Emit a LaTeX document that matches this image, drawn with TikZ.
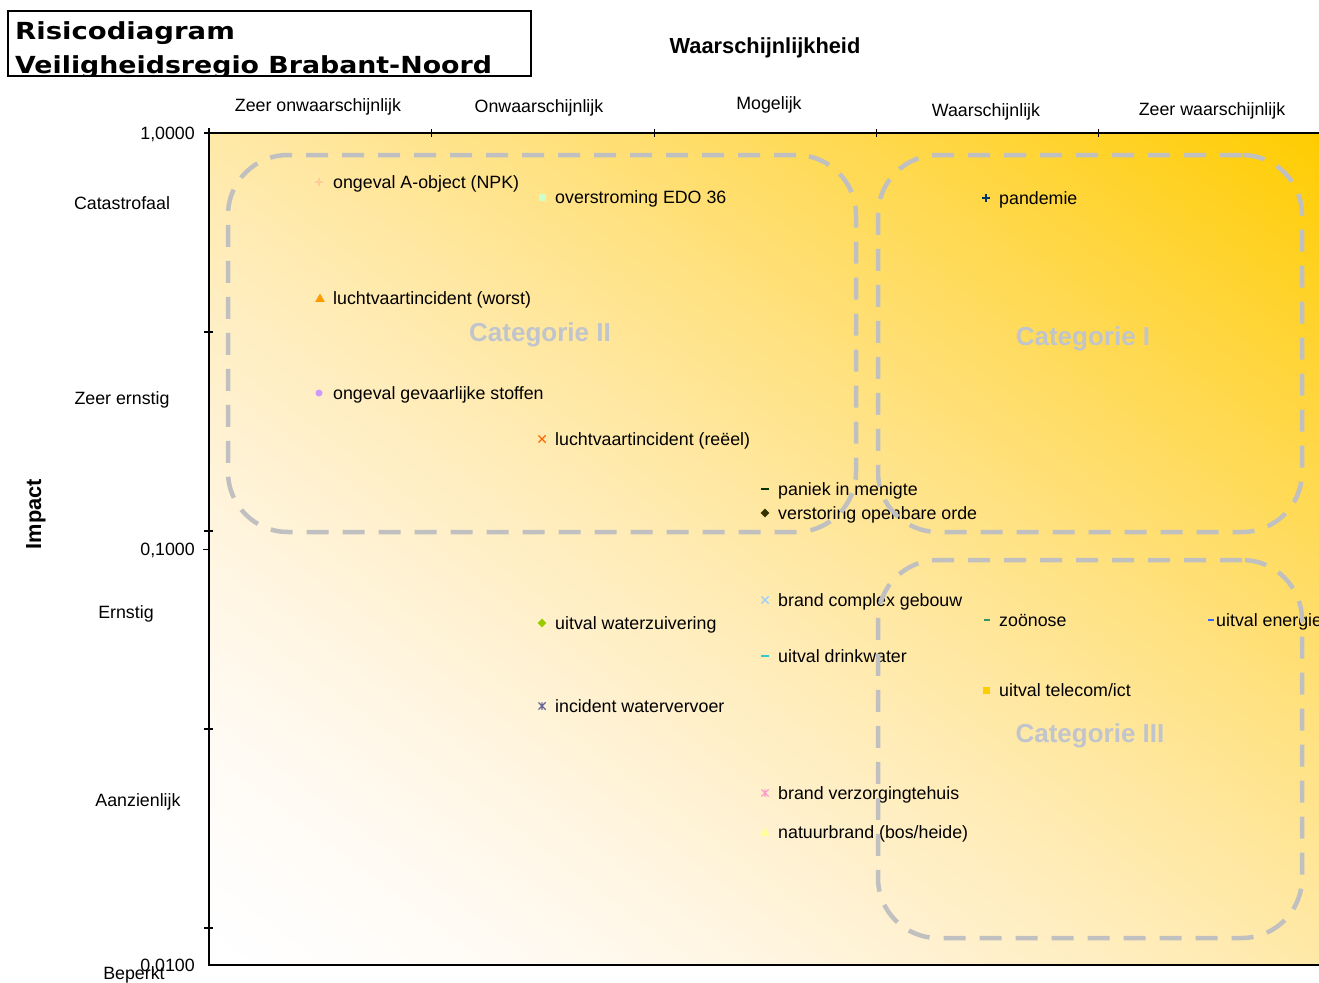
\documentclass[tikz,border=0pt]{standalone}
\usepackage{fontspec}
\usepackage{graphicx}
\setmainfont{Liberation Sans}
\newfontfamily\titlefont{DejaVu Sans}
\usetikzlibrary{shapes.geometric,shadings}
\pgfdeclarefunctionalshading{plotbg}{\pgfpoint{-50bp}{-50bp}}{\pgfpoint{50bp}{50bp}}{}{
  add 50 add 100 div
  dup 0 lt {pop 0} if
  dup 1 gt {pop 1} if
  dup 1.2 exp 0.2 mul 1 exch sub
  exch 1.55 exp 1 exch sub
  1 3 1 roll
}
\definecolor{boxgray}{RGB}{192,192,192}
\definecolor{catgray}{RGB}{192,196,204}
\definecolor{cA}{RGB}{255,204,153}
\definecolor{cB}{RGB}{204,255,204}
\definecolor{cC}{RGB}{0,51,102}
\definecolor{cD}{RGB}{255,153,0}
\definecolor{cE}{RGB}{204,153,255}
\definecolor{cF}{RGB}{255,102,0}
\definecolor{cG}{RGB}{0,51,0}
\definecolor{cH}{RGB}{51,51,0}
\definecolor{cI}{RGB}{153,204,255}
\definecolor{cJ}{RGB}{51,153,102}
\definecolor{cK}{RGB}{51,102,255}
\definecolor{cL}{RGB}{153,204,0}
\definecolor{cM}{RGB}{51,204,204}
\definecolor{cN}{RGB}{255,204,0}
\definecolor{cO}{RGB}{102,102,153}
\definecolor{cP}{RGB}{255,153,204}
\definecolor{cQ}{RGB}{255,255,153}
\tikzset{
  lbl/.style={font=\fontsize{17.8}{20}\selectfont, inner sep=0, anchor=base west},
  axl/.style={font=\fontsize{17.8}{20}\selectfont, inner sep=0, anchor=base},
  ytl/.style={font=\fontsize{17.8}{20}\selectfont, inner sep=0, anchor=base east},
  ttl/.style={font=\titlefont\bfseries\fontsize{23.5}{28}\selectfont, inner sep=0, anchor=base west},
  catbox/.style={draw=boxgray, line width=4.5, dash pattern=on 22 off 14, rounded corners=60, inner sep=0},
  catlbl/.style={font=\fontsize{26}{30}\selectfont\bfseries, text=catgray, inner sep=0},
  mk/.style={inner sep=0, minimum size=8},
  sqmk/.style={mk, rectangle, fill=#1, minimum size=7},
  trimk/.style={inner sep=0, regular polygon, regular polygon sides=3, minimum size=11, fill=#1},
  cimk/.style={mk, circle, fill=#1, minimum size=7},
  dimk/.style={inner sep=0, diamond, fill=#1, minimum size=9},
  dashmk/.style={inner sep=0, rectangle, fill=#1, minimum width=8, minimum height=2.6},
  plusmk/.style={mk, path picture={\draw[#1, line width=1.3] (path picture bounding box.north) -- (path picture bounding box.south) (path picture bounding box.west) -- (path picture bounding box.east);}},
  crossmk/.style={mk, minimum size=7.5, path picture={\draw[#1, line width=1.2] (path picture bounding box.north west) -- (path picture bounding box.south east) (path picture bounding box.south west) -- (path picture bounding box.north east);}},
  astmk/.style={mk, minimum size=7.5, path picture={\draw[#1, line width=1.2] (path picture bounding box.north west) -- (path picture bounding box.south east) (path picture bounding box.south west) -- (path picture bounding box.north east) (path picture bounding box.north) -- (path picture bounding box.south);}},
}
\begin{document}
\begin{tikzpicture}[x=1pt,y=-1pt]
\useasboundingbox (0,0) rectangle (1319,982);
\fill[white] (0,0) rectangle (1319,982);
% plot background
\shade[shading=plotbg] (209,133) rectangle (1319,965);
% axes
\draw[line width=1.5] (204,133) -- (1319,133);
\draw[line width=1.5] (209,128) -- (209,965) -- (1319,965);
\foreach \x in {431,654,876,1098} \draw[line width=1] (\x,129) -- (\x,137);
\foreach \y in {332,531,729,928} \draw[line width=1.5] (204,\y) -- (213,\y);
\foreach \y in {549} \draw[line width=1] (203,\y) -- (209,\y);
% title
\begin{scope}
\clip (8,11) rectangle (531,75.5);
\node[ttl] (t1) at (15,39.5) {\scalebox{1.17}[1]{Risicodiagram}};
\node[ttl] (t2) at (15,73.5) {\scalebox{1.14}[1]{Veiligheidsregio Brabant-Noord}};
\end{scope}
\draw[line width=1.2] (8,11) rectangle (531,76);
% axis titles
\node[font=\fontsize{21.8}{24}\selectfont\bfseries, inner sep=0, anchor=base] (wt) at (765,53) {Waarschijnlijkheid};
\node[font=\fontsize{21.8}{24}\selectfont\bfseries, inner sep=0, anchor=base, rotate=90] (it) at (41,514) {Impact};
% top labels
\node[axl] (x1) at (318,111) {Zeer onwaarschijnlijk};
\node[axl] (x2) at (539,112) {Onwaarschijnlijk};
\node[axl] (x3) at (769,109) {Mogelijk};
\node[axl] (x4) at (986,116) {Waarschijnlijk};
\node[axl] (x5) at (1212,115) {Zeer waarschijnlijk};
% left labels
\node[axl] (y1) at (122,209) {Catastrofaal};
\node[axl] (y2) at (122,404) {Zeer ernstig};
\node[axl] (y3) at (126,618) {Ernstig};
\node[axl] (y4) at (138,806) {Aanzienlijk};
\node[axl] (y5) at (134,979) {Beperkt};
\node[ytl] (v1) at (195,139) {1,0000};
\node[ytl] (v2) at (195,555) {0,1000};
\node[ytl] (v3) at (195,971) {0,0100};
% data
\node[plusmk=cA] (m1) at (319,182) {};
\node[lbl] (l1) at (333,188) {ongeval A-object (NPK)};
\node[sqmk=cB] (m2) at (542,197) {};
\node[lbl] (l2) at (555,203) {overstroming EDO 36};
\node[plusmk=cC] (m3) at (986,198) {};
\node[lbl] (l3) at (999,204) {pandemie};
\node[trimk=cD] (m4) at (320,299) {};
\node[lbl] (l4) at (333,304) {luchtvaartincident (worst)};
\node[cimk=cE] (m5) at (319,393) {};
\node[lbl] (l5) at (333,399) {ongeval gevaarlijke stoffen};
\node[crossmk=cF] (m6) at (542,439) {};
\node[lbl] (l6) at (555,445) {luchtvaartincident (reëel)};
\node[dashmk=cG] (m7) at (765,489) {};
\node[lbl] (l7) at (778,495) {paniek in menigte};
\node[dimk=cH] (m8) at (765,513) {};
\node[lbl] (l8) at (778,519) {verstoring openbare orde};
\node[crossmk=cI] (m9) at (765,600) {};
\node[lbl] (l9) at (778,606) {brand complex gebouw};
\node[dashmk=cJ, minimum width=6] (m10) at (987,620) {};
\node[lbl] (l10) at (999,626) {zoönose};
\node[dashmk=cK, minimum width=6] (m11) at (1211,620) {};
\node[lbl] (l11) at (1216,626) {uitval energie};
\node[dimk=cL] (m12) at (542,623) {};
\node[lbl] (l12) at (555,629) {uitval waterzuivering};
\node[dashmk=cM] (m13) at (765,656) {};
\node[lbl] (l13) at (778,662) {uitval drinkwater};
\node[sqmk=cN] (m14) at (986,690) {};
\node[lbl] (l14) at (999,696) {uitval telecom/ict};
\node[astmk=cO] (m15) at (542,706) {};
\node[lbl] (l15) at (555,712) {incident watervervoer};
\node[astmk=cP] (m16) at (765,793) {};
\node[lbl] (l16) at (778,799) {brand verzorgingtehuis};
\node[trimk=cQ] (m17) at (765,833) {};
\node[lbl] (l17) at (778,838) {natuurbrand (bos/heide)};
% category boxes
\node[catbox, minimum width=628, minimum height=377] (c2) at (542,343.5) {};
\node[catbox, minimum width=424, minimum height=377] (c1) at (1090,343.5) {};
\node[catbox, minimum width=424, minimum height=378] (c3) at (1090,749) {};
\node[catlbl] (k2) at (540,335) {Categorie II};
\node[catlbl] (k1) at (1083,339) {Categorie I};
\node[catlbl] (k3) at (1090,736) {Categorie III};
\end{tikzpicture}
\end{document}
